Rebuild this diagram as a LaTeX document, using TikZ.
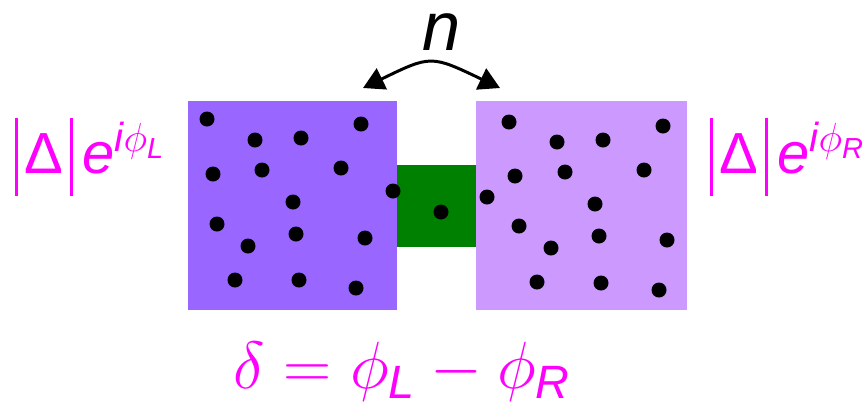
\RequirePackage{fix-cm}
\documentclass[tikz,border=0pt]{standalone}
\usepackage{amsmath}
\usepackage{fontspec}
\setsansfont{Liberation Sans}
\usetikzlibrary{arrows.meta}

\definecolor{leadleft}{HTML}{9966FF}
\definecolor{leadright}{HTML}{CC99FF}
\definecolor{linkgreen}{HTML}{008000}
\definecolor{phasemag}{HTML}{FF00FF}

\newcommand\sfi[1]{\text{\sffamily\itshape #1}}
\newcommand\absbar{\rule[-0.4em]{0.05em}{1.35em}}

\begin{document}
\begin{tikzpicture}[x=0.02cm, y=-0.02cm,
  leadbox/.style={inner sep=0, minimum height=4.18cm},
  grain/.style={fill=black},
  phaselabel/.style={text=phasemag, inner sep=0, font=\fontsize{33}{40}\selectfont},
]
  \useasboundingbox (0,0) rectangle (865,414);

  % Leads and weak link
  \node[leadbox, fill=leadleft, minimum width=4.18cm] (leadL) at (292.5,205.5) {};
  \node[leadbox, fill=leadright, minimum width=4.22cm] (leadR) at (581.5,205.5) {};
  \node[fill=linkgreen, inner sep=0, minimum width=1.58cm, minimum height=1.64cm] (link) at (436.5,206) {};

  % Grains
  \foreach \x/\y in {207/119, 255/140, 301/138, 361/124, 213/174, 262/170, 341/168,
                     293/202, 393/191, 217/224, 296/234, 365/238, 248/246, 235/280,
                     299/280, 356/288, 441/212,
                     509/122, 557/142, 603/140, 663/126, 515/176, 565/172, 644/170,
                     487/197, 595/204, 519/226, 599/236, 667/240, 551/248, 537/282,
                     601/283, 659/290}
    \fill[grain] (\x,\y) circle[radius=0.15cm];

  % Exchange arrow
  \coordinate (arrL) at (363,88);
  \coordinate (arrR) at (500,88);
  \draw[{Triangle[length=0.42cm, width=0.46cm]}-{Triangle[length=0.42cm, width=0.46cm]}, line width=1.7pt]
    (arrL) .. controls (431,55) .. (arrR);
  \node[anchor=base, inner sep=0, text height=0.55em, text depth=0pt,
        font=\sffamily\itshape\fontsize{39}{46}\selectfont] (num) at (442,50) {n};

  % Labels
  \node[phaselabel, anchor=base west] (phaseL) at (15,173)
    {$\absbar\mkern2mu\textsf{Δ}\mkern2mu\absbar\mkern3mu\sfi{e}^{\sfi{i}\phi_{\sfi{L}}}$};
  \node[phaselabel, anchor=base west] (phaseR) at (710,173)
    {$\absbar\mkern2mu\textsf{Δ}\mkern2mu\absbar\mkern3mu\sfi{e}^{\sfi{i}\phi_{\sfi{R}}}$};
  \node[phaselabel, anchor=base, font=\fontsize{38}{44}\selectfont] (diff) at (402,388)
    {$\delta = \phi_{\sfi{L}} - \phi_{\sfi{R}}$};
\end{tikzpicture}
\end{document}
